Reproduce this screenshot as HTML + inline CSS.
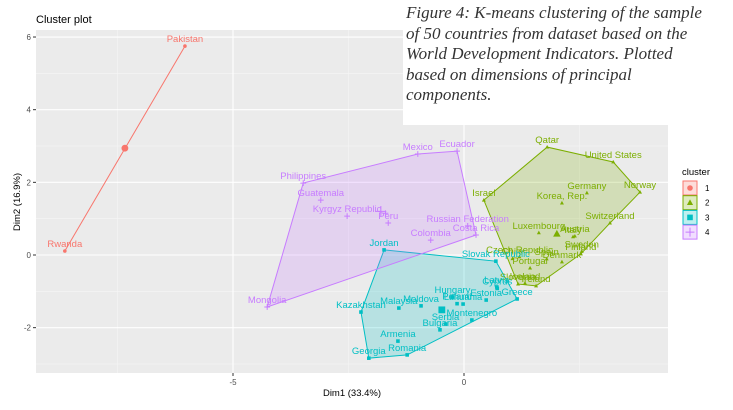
<!DOCTYPE html>
<html><head><meta charset="utf-8"><style>
body{margin:0;background:#fff;width:733px;height:410px;overflow:hidden;font-family:"Liberation Sans",sans-serif}
svg{position:absolute;left:0;top:0}
.cap{position:absolute;left:403px;top:0;width:330px;height:125px;background:#fff;font-family:"Liberation Serif",serif;font-style:italic;font-size:17px;line-height:20.5px;color:#333;padding:3px 0 0 3px;box-sizing:border-box}
</style></head><body>
<svg id="c" width="733" height="410"></svg>
<div class="cap">Figure 4: K-means clustering of the sample<br>of 50 countries from dataset based on the<br>World Development Indicators. Plotted<br>based on dimensions of principal<br>components.</div>
<script>
const clusterColors=["#F8766D","#7CAE00","#00BFC4","#C77CFF"];
const xTicks=[-5,0];
const yTicks=[-2,0,2,4,6];
const c1Names=["Rwanda","Pakistan"];
const c1X=[-8.64,-6.04];
const c1Y=[0.11,5.75];
const c1Hull=[0,1];
const c2Names=["Israel","Qatar","United States","Norway","Switzerland","Finland","Ireland","Slovenia","Germany","Korea, Rep.","Luxembourg","Austria","Italy","Sweden","Denmark","Spain","Portugal","Chile","Czech Republic","Iceland"];
const c2X=[0.43,1.8,3.23,3.81,3.16,2.53,1.56,1.17,2.66,2.12,1.62,2.4,2.36,2.55,2.12,1.79,1.43,1.05,1.2,1.32];
const c2Y=[1.51,2.97,2.56,1.73,0.88,0.03,-0.85,-0.8,1.71,1.43,0.61,0.52,0.5,0.1,-0.19,-0.11,-0.36,-0.1,-0.05,-0.78];
const c2Hull=[0,1,2,3,4,5,6,7];
const c3Names=["Jordan","Slovak Republic","Greece","Romania","Georgia","Kazakhstan","Malaysia","Moldova","Armenia","Bulgaria","Serbia","Montenegro","Lithuania","Poland","Hungary","Estonia","Latvia","Cyprus"];
const c3X=[-1.73,0.69,1.15,-1.23,-2.06,-2.23,-1.41,-0.93,-1.43,-0.52,-0.4,0.17,-0.02,-0.15,-0.25,0.48,0.71,0.72];
const c3Y=[0.14,-0.17,-1.21,-2.75,-2.84,-1.57,-1.46,-1.4,-2.37,-2.06,-1.9,-1.79,-1.35,-1.34,-1.16,-1.24,-0.88,-0.92];
const c3Hull=[0,1,2,3,4,5];
const c4Names=["Mongolia","Philippines","Mexico","Ecuador","Costa Rica","Guatemala","Kyrgyz Republic","Peru","","Russian Federation","Colombia"];
const c4X=[-4.26,-3.48,-1.0,-0.15,0.26,-3.1,-2.53,-1.64,-1.7,0.08,-0.72];
const c4Y=[-1.43,1.98,2.78,2.86,0.55,1.51,1.07,0.88,1.15,0.8,0.41];
const c4Hull=[0,1,2,3,4];
const centX=[-7.34,2.01,-0.48,-1.8];
const centY=[2.94,0.58,-1.51,1.2];

const L=36,R=668,T=30,B=373;
const sx=v=>464+v*46.2, sy=v=>255-v*36.33;
const svg=document.getElementById('c');const NS="http://www.w3.org/2000/svg";
function mk(t,a,p){const e=document.createElementNS(NS,t);for(const k in a)e.setAttribute(k,a[k]);(p||svg).appendChild(e);return e;}
let bg=mk('rect',{x:L,y:T,width:R-L,height:B-T,fill:'#EBEBEB'});


for(let v=-7.5;v<=5;v+=5)mk('line',{x1:sx(v),x2:sx(v),y1:T,y2:B,stroke:'#F5F5F5','stroke-width':0.6});
for(let v=-3;v<=5;v+=2)mk('line',{x1:L,x2:R,y1:sy(v),y2:sy(v),stroke:'#F5F5F5','stroke-width':0.6});
xTicks.forEach(v=>{mk('line',{x1:sx(v),x2:sx(v),y1:T,y2:B,stroke:'#fff','stroke-width':1.1});mk('line',{x1:sx(v),x2:sx(v),y1:B,y2:B+3,stroke:'#333'});
 const t=mk('text',{x:sx(v),y:B+12,'font-size':8,fill:'#4d4d4d','text-anchor':'middle'});t.textContent=v;
 
 });
yTicks.forEach(v=>{mk('line',{x1:L,x2:R,y1:sy(v),y2:sy(v),stroke:'#fff','stroke-width':1.1});mk('line',{x1:L-3,x2:L,y1:sy(v),y2:sy(v),stroke:'#333'});
 const t=mk('text',{x:L-5,y:sy(v)+3,'font-size':8,fill:'#4d4d4d','text-anchor':'end'});t.textContent=v;
 
 });
const clusters=[[c1Names,c1X,c1Y,c1Hull],[c2Names,c2X,c2Y,c2Hull],[c3Names,c3X,c3Y,c3Hull],[c4Names,c4X,c4Y,c4Hull]];
function marker(i,x,y,s,name){const col=clusterColors[i];let e;
 if(i==0)e=mk('circle',{cx:x,cy:y,r:s,fill:col});
 else if(i==1)e=mk('polygon',{points:`${x},${y-s*1.2} ${x-s*1.1},${y+s*0.8} ${x+s*1.1},${y+s*0.8}`,fill:col});
 else if(i==2)e=mk('rect',{x:x-s,y:y-s,width:2*s,height:2*s,fill:col});
 else e=mk('path',{d:`M${x-s*1.6},${y}H${x+s*1.6}M${x},${y-s*1.6}V${y+s*1.6}`,stroke:col,'stroke-width':1,fill:'none'});
 
 return e;}
clusters.forEach((cl,i)=>{const [n,X,Y,H]=cl;const col=clusterColors[i];
 const pts=H.map(j=>sx(X[j])+','+sy(Y[j])).join(' ');
 const h=mk('polygon',{points:pts,fill:col,'fill-opacity':0.22,stroke:col,'stroke-width':1});
 
 });
clusters.forEach((cl,i)=>{const [n,X,Y]=cl;const col=clusterColors[i];
 n.forEach((nm,j)=>{marker(i,sx(X[j]),sy(Y[j]),1.8,'point-'+(i+1));
  if(nm){const t=mk('text',{x:sx(X[j]),y:sy(Y[j])-4,'font-size':9.5,fill:col,'text-anchor':'middle'});t.textContent=nm;
  
  }});
 marker(i,sx(centX[i]),sy(centY[i]),3.4,'centroid-'+(i+1));});
let t=mk('text',{x:36,y:23,'font-size':11,fill:'#000'});t.textContent='Cluster plot';

t=mk('text',{x:352,y:396,'font-size':9.5,fill:'#000','text-anchor':'middle'});t.textContent='Dim1 (33.4%)';

t=mk('text',{x:0,y:0,'font-size':9.5,fill:'#000','text-anchor':'middle',transform:'translate(20,202) rotate(-90)'});t.textContent='Dim2 (16.9%)';

t=mk('text',{x:682,y:175,'font-size':9.5,fill:'#000'});t.textContent='cluster';

clusterColors.forEach((col,i)=>{const y=181+i*14.7;
 const r=mk('rect',{x:683,y:y,width:14,height:14,fill:col,'fill-opacity':0.25,stroke:col});
 
 marker(i,690,y+7,2.8,'legend-marker');
 const tt=mk('text',{x:705,y:y+10,'font-size':8,fill:'#000'});tt.textContent=i+1;
 });
</script>
</body></html>
